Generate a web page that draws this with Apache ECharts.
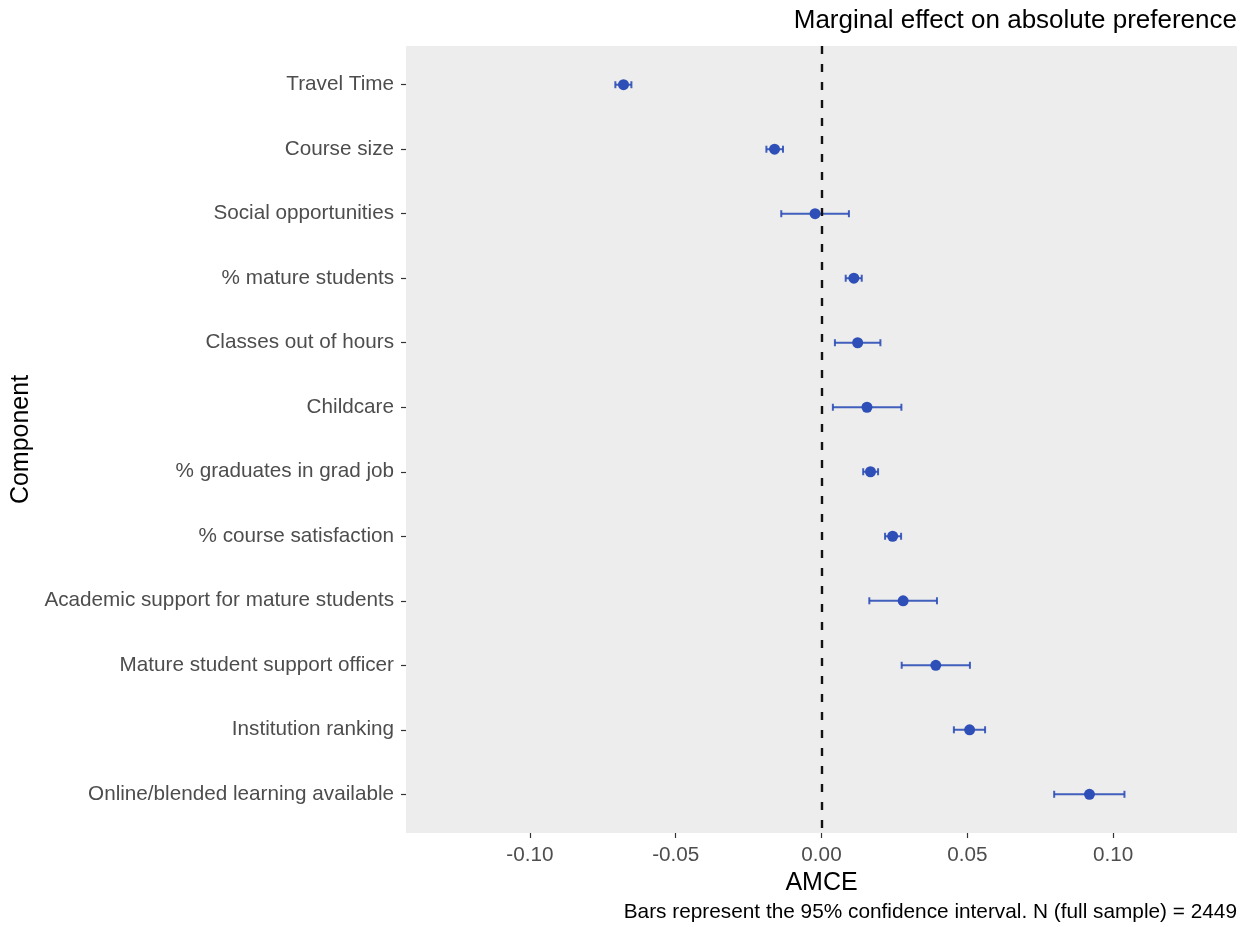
<!DOCTYPE html>
<html>
<head>
<meta charset="utf-8">
<title>AMCE plot</title>
<script src="https://cdn.jsdelivr.net/npm/echarts@6/dist/echarts.min.js"></script>
<style>
  html, body { margin: 0; padding: 0; background: #ffffff; }
  #chart { width: 1249px; height: 927px; }
</style>
</head>
<body>
<div id="chart"></div>
<script>
// Attribute components, top to bottom
const components = [
  'Travel Time',
  'Course size',
  'Social opportunities',
  '% mature students',
  'Classes out of hours',
  'Childcare',
  '% graduates in grad job',
  '% course satisfaction',
  'Academic support for mature students',
  'Mature student support officer',
  'Institution ranking',
  'Online/blended learning available'
];

// Average marginal component effects and 95% confidence bounds
const amce  = [-0.0679, -0.0161, -0.0022, 0.0111, 0.0124, 0.0156, 0.0168, 0.0244, 0.0280, 0.0392, 0.0508, 0.0919];
const lower = [-0.0707, -0.0189, -0.0138, 0.0083, 0.0046, 0.0039, 0.0143, 0.0218, 0.0164, 0.0275, 0.0454, 0.0798];
const upper = [-0.0652, -0.0132,  0.0094, 0.0138, 0.0202, 0.0274, 0.0194, 0.0273, 0.0396, 0.0509, 0.0561, 0.1039];

const xTicks = [-0.10, -0.05, 0.00, 0.05, 0.10];
const rowTicks = components.map((_, i) => i);

const FONT = '"Liberation Sans", Arial, Helvetica, sans-serif';
const BLUE = '#2E4FB7';

const pointData = amce.map((v, i) => [v, i]);
const intervalData = lower.map((lo, i) => [lo, upper[i], i]);

const chart = echarts.init(document.getElementById('chart'), null, { renderer: 'canvas' });

chart.setOption({
  animation: false,
  backgroundColor: '#ffffff',
  textStyle: { fontFamily: FONT },
  title: [
    {
      text: 'Marginal effect on absolute preference',
      right: 12,
      top: 8,
      padding: 0,
      textStyle: { fontFamily: FONT, fontSize: 26, fontWeight: 'normal', color: '#000000' }
    },
    {
      text: 'Bars represent the 95% confidence interval. N (full sample) = 2449',
      right: 12,
      bottom: 4,
      padding: 0,
      textStyle: { fontFamily: FONT, fontSize: 20.8, fontWeight: 'normal', color: '#000000' }
    }
  ],
  grid: {
    left: 406,
    right: 12,
    top: 46,
    bottom: 94,
    outerBoundsMode: 'none',
    containLabel: false,
    show: true,
    backgroundColor: '#EDEDED',
    borderWidth: 0
  },
  xAxis: {
    type: 'value',
    min: -0.1425,
    max: 0.1425,
    name: 'AMCE',
    nameLocation: 'middle',
    nameGap: 31,
    nameTextStyle: { fontFamily: FONT, fontSize: 25, color: '#000000' },
    axisLine: { show: false, onZero: false },
    splitLine: { show: false },
    axisTick: {
      show: true,
      length: 5,
      customValues: xTicks,
      lineStyle: { color: '#333333', width: 1.2 }
    },
    axisLabel: {
      customValues: xTicks,
      margin: 12,
      fontFamily: FONT,
      fontSize: 20.7,
      color: '#4D4D4D',
      formatter: v => v.toFixed(2)
    }
  },
  yAxis: {
    type: 'value',
    inverse: true,
    min: -0.6,
    max: components.length - 1 + 0.6,
    name: 'Component',
    nameLocation: 'middle',
    nameRotate: 90,
    nameGap: 371,
    nameTextStyle: { fontFamily: FONT, fontSize: 25, color: '#000000' },
    axisLine: { show: false, onZero: false },
    splitLine: { show: false },
    axisTick: {
      show: true,
      length: 5,
      customValues: rowTicks,
      lineStyle: { color: '#333333', width: 1.2 }
    },
    axisLabel: {
      customValues: rowTicks,
      margin: 12,
      padding: [4, 0, 0, 0],
      fontFamily: FONT,
      fontSize: 20.7,
      color: '#4D4D4D',
      formatter: v => components[Math.round(v)] || ''
    }
  },
  series: [
    {
      // confidence interval whiskers with end caps
      type: 'custom',
      name: 'interval',
      data: intervalData,
      z: 3,
      renderItem: function (params, api) {
        const lo = api.coord([api.value(0), api.value(2)]);
        const hi = api.coord([api.value(1), api.value(2)]);
        const cap = 3.5;
        const style = { stroke: BLUE, lineWidth: 2, opacity: 0.9 };
        return {
          type: 'group',
          children: [
            { type: 'line', shape: { x1: lo[0], y1: lo[1], x2: hi[0], y2: hi[1] }, style: style },
            { type: 'line', shape: { x1: lo[0], y1: lo[1] - cap, x2: lo[0], y2: lo[1] + cap }, style: style },
            { type: 'line', shape: { x1: hi[0], y1: hi[1] - cap, x2: hi[0], y2: hi[1] + cap }, style: style }
          ]
        };
      },
      encode: { x: [0, 1], y: 2 }
    },
    {
      type: 'scatter',
      name: 'AMCE',
      data: pointData,
      symbol: 'circle',
      symbolSize: 11,
      z: 4,
      itemStyle: { color: BLUE, opacity: 1 },
      markLine: {
        silent: true,
        symbol: ['none', 'none'],
        label: { show: false },
        lineStyle: { color: '#111111', width: 2.4, type: [8, 10], opacity: 1 },
        data: [{ xAxis: 0 }]
      }
    }
  ]
});
</script>
</body>
</html>
